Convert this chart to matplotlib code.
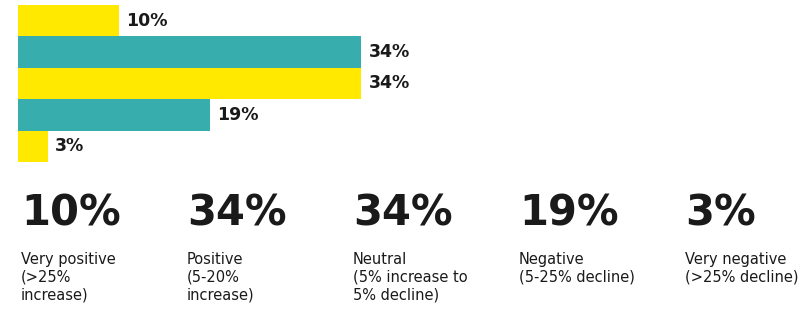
import matplotlib
matplotlib.use('Agg')
import matplotlib.pyplot as plt

# share of respondents per expectation
categories = ['Very positive', 'Positive', 'Neutral', 'Negative', 'Very negative']
values = [10, 34, 34, 19, 3]
descriptions = [
    'Very positive\n(>25%\nincrease)',
    'Positive\n(5-20%\nincrease)',
    'Neutral\n(5% increase to\n5% decline)',
    'Negative\n(5-25% decline)',
    'Very negative\n(>25% decline)',
]
colors = ['#FFE900', '#38ADAD', '#FFE900', '#38ADAD', '#FFE900']

W, H = 812, 311
dark = '#1a1a1a'

fig = plt.figure(figsize=(W / 100, H / 100), dpi=100)
fig.patch.set_facecolor('white')

# bar axes: x 18..812 px, y 5..162 px
ax = fig.add_axes([18 / W, 1 - 162 / H, (W - 18) / W, 157 / H])
px_per_pct = 10.1
ax.set_xlim(0, (W - 18) / px_per_pct)
ax.set_ylim(len(values) - 0.5, -0.5)

ypos = list(range(len(values)))
ax.barh(ypos, values, height=1.0, color=colors, edgecolor='none')
for y, v in zip(ypos, values):
    ax.text(v + 0.7, y, f'{v}%', va='center', ha='left',
            fontsize=12.5, fontweight='bold', color=dark)
ax.axis('off')

# big numbers with descriptions
col_x = [21, 187, 353, 519, 685]
for x, v, d in zip(col_x, values, descriptions):
    fig.text(x / W, 1 - 225 / H, f'{v}%', ha='left', va='baseline',
             fontsize=30, fontweight='bold', color=dark)
    fig.text(x / W, 1 - 252 / H, d, ha='left', va='top',
             fontsize=10.5, color=dark, linespacing=1.25)

fig.savefig('out.png', dpi=100)
